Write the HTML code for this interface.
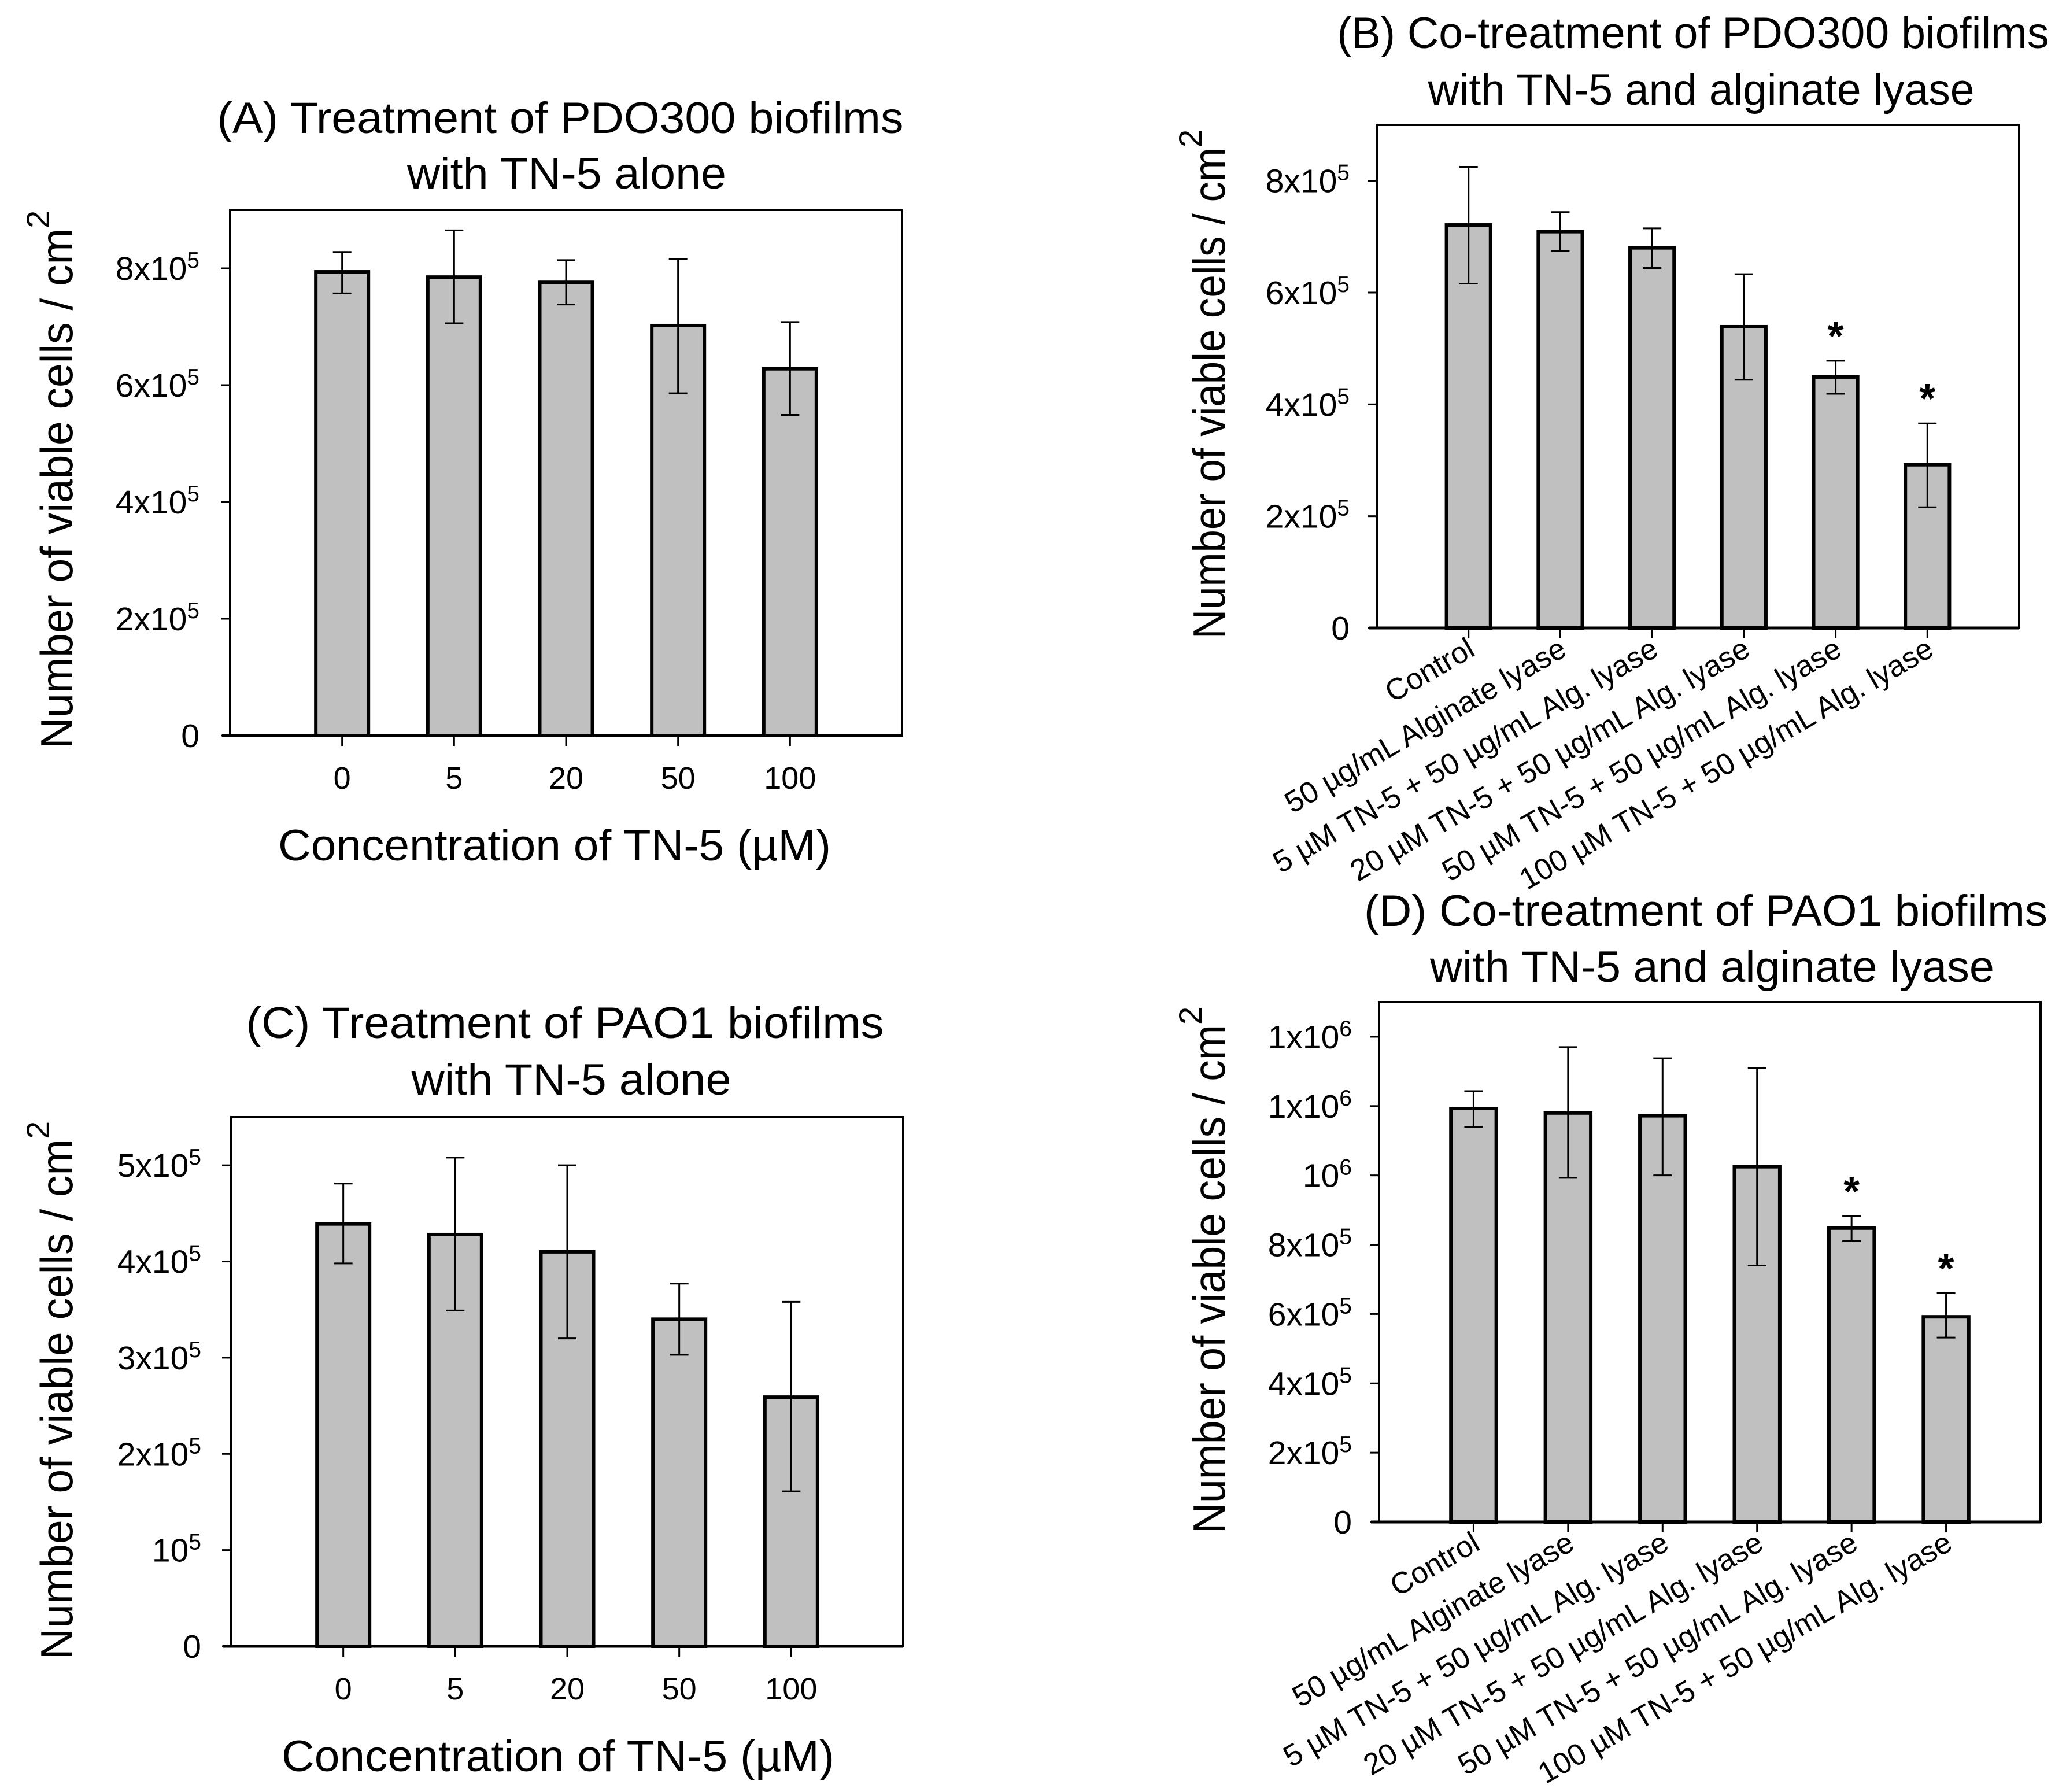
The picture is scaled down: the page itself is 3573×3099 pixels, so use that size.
<!DOCTYPE html>
<html><head><meta charset="utf-8"><style>
html,body{margin:0;padding:0;background:#fff;}
svg{display:block;font-family:"Liberation Sans",Arial,sans-serif;}
</style></head><body>
<svg id="fig" width="3573" height="3099" viewBox="0 0 3573 3099" xmlns="http://www.w3.org/2000/svg">
<rect width="3573" height="3099" fill="#fff"/>
</svg>
<script>
// ---- Panel A data ----
const aCats = ["0","5","20","50","100"];
const aMeans = [7.94e5, 7.85e5, 7.76e5, 7.02e5, 6.28e5];
const aHi = [8.28e5, 8.65e5, 8.14e5, 8.16e5, 7.08e5];
const aLo = [7.57e5, 7.06e5, 7.38e5, 5.86e5, 5.49e5];
const aTickVals = [0, 2e5, 4e5, 6e5, 8e5];
const aTickLabels = [["0",""],["2x10","5"],["4x10","5"],["6x10","5"],["8x10","5"]];
// ---- Panel B data ----
const bCats = ["Control","50 µg/mL Alginate lyase","5 µM TN-5 + 50 µg/mL Alg. lyase","20 µM TN-5 + 50 µg/mL Alg. lyase","50 µM TN-5 + 50 µg/mL Alg. lyase","100 µM TN-5 + 50 µg/mL Alg. lyase"];
const bMeans = [7.21e5, 7.09e5, 6.80e5, 5.39e5, 4.49e5, 2.92e5];
const bHi = [8.25e5, 7.44e5, 7.15e5, 6.33e5, 4.78e5, 3.66e5];
const bLo = [6.16e5, 6.75e5, 6.44e5, 4.44e5, 4.19e5, 2.16e5];
const bStars = [false,false,false,false,true,true];
const bTickVals = [0, 2e5, 4e5, 6e5, 8e5];
const bTickLabels = [["0",""],["2x10","5"],["4x10","5"],["6x10","5"],["8x10","5"]];
// ---- Panel C data ----
const cCats = ["0","5","20","50","100"];
const cMeans = [4.39e5, 4.28e5, 4.10e5, 3.40e5, 2.59e5];
const cHi = [4.81e5, 5.08e5, 5.00e5, 3.77e5, 3.58e5];
const cLo = [3.98e5, 3.49e5, 3.20e5, 3.03e5, 1.61e5];
const cTickVals = [0, 1e5, 2e5, 3e5, 4e5, 5e5];
const cTickLabels = [["0",""],["10","5"],["2x10","5"],["3x10","5"],["4x10","5"],["5x10","5"]];
// ---- Panel D data ----
const dCats = bCats;
const dMeans = [11.93e5, 11.80e5, 11.72e5, 10.25e5, 8.48e5, 5.92e5];
const dHi = [12.43e5, 13.70e5, 13.38e5, 13.10e5, 8.83e5, 6.60e5];
const dLo = [11.40e5, 9.93e5, 10.00e5, 7.40e5, 8.10e5, 5.32e5];
const dStars = [false,false,false,false,true,true];
const dTickVals = [0, 2e5, 4e5, 6e5, 8e5, 10e5, 12e5, 14e5];
const dTickLabels = [["0",""],["2x10","5"],["4x10","5"],["6x10","5"],["8x10","5"],["10","6"],["1x10","6"],["1x10","6"]];

const NS = "http://www.w3.org/2000/svg";
const svg = document.getElementById("fig");
function mk(tag, attrs, parent, txt){
  const e = document.createElementNS(NS, tag);
  for (const k in attrs) e.setAttribute(k, attrs[k]);
  if (txt !== undefined) e.textContent = txt;
  (parent||svg).appendChild(e);
  return e;
}

function panel(p){
  const g = mk("g", {});
  
  
  const n = p.cats.length;
  const slot = (p.x1 - p.x0) / (n + 1);
  const xs = i => p.x0 + slot * (i + 1);
  const ys = v => p.y1 - (v / p.ymax) * (p.y1 - p.y0);
  p.titles.forEach((t) => {
    const tt = mk("text", {x: t.cx, y: t.y, "font-size": 76, "text-anchor": "middle", textLength: t.w, lengthAdjust: "spacingAndGlyphs"}, g, t.s);
    
    
  });
  for (let i = 0; i < n; i++) {
    const cx = xs(i), bw = slot * p.bwf;
    const top = ys(p.means[i]);
    const r = mk("rect", {x: cx - bw/2, y: top, width: bw, height: p.y1 - top, fill: "#c0c0c0", stroke: "#000", "stroke-width": 6}, g);
    
    
    const hy = ys(p.hi[i]), ly = ys(p.lo[i]);
    const eb = mk("path", {d: `M${cx},${hy}V${ly}M${cx-16},${hy}H${cx+16}M${cx-16},${ly}H${cx+16}`, stroke: "#000", "stroke-width": 3, fill: "none"}, g);
    
    
    if (p.stars && p.stars[i]) {
      const st = mk("text", {x: cx, y: hy - 18, "font-size": 72, "text-anchor": "middle", "font-weight": "bold"}, g, "*");
      
      
    }
  }
  const fr = mk("rect", {x: p.x0, y: p.y0, width: p.x1 - p.x0, height: p.y1 - p.y0, fill: "none", stroke: "#000", "stroke-width": 4}, g);
  
  
  const zl = mk("line", {x1: p.x0 - 14, x2: p.x1, y1: p.y1, y2: p.y1, stroke: "#000", "stroke-width": 5}, g);
  
  
  p.tickVals.forEach((v, i) => {
    const y = ys(v);
    mk("line", {x1: p.x0 - 16, x2: p.x0, y1: y, y2: y, stroke: "#000", "stroke-width": 3}, g);
    const lab = p.tickLabels[i];
    const t = mk("text", {x: p.tlx, y: y + 20, "font-size": 57, "text-anchor": "end"}, g);
    
    
    mk("tspan", {}, t, lab[0]);
    if (lab[1]) mk("tspan", {dy: -21, "font-size": 39}, t, lab[1]);
  });
  for (let i = 0; i < n; i++) {
    const cx = xs(i);
    mk("line", {x1: cx, x2: cx, y1: p.y1, y2: p.y1 + 18, stroke: "#000", "stroke-width": 3}, g);
    if (p.rot) {
      const t = mk("text", {x: 0, y: 0, "font-size": 52, "text-anchor": "end", transform: `translate(${cx + 14},${p.y1 + 46}) rotate(-30)`}, g, p.cats[i]);
      
      
    } else {
      const t = mk("text", {x: cx, y: p.y1 + 92, "font-size": 54, "text-anchor": "middle"}, g, p.cats[i]);
      
      
    }
  }
  if (p.xt) {
    const t = mk("text", {x: p.xt.cx, y: p.xt.y, "font-size": 76, "text-anchor": "middle", textLength: p.xt.w, lengthAdjust: "spacingAndGlyphs"}, g, "Concentration of TN-5 (µM)");
    
    
  }
  const yt = mk("text", {x: 0, y: 0, "font-size": 78, transform: `translate(${p.ytx},${p.yt0}) rotate(-90)`}, g);
  
  
  mk("tspan", {textLength: p.ytw, lengthAdjust: "spacingAndGlyphs"}, yt, "Number of viable cells / cm");
  mk("tspan", {dy: -40, "font-size": 56}, yt, "2");
}

panel({name:"panel-a", cats:aCats, means:aMeans, hi:aHi, lo:aLo, tickVals:aTickVals, tickLabels:aTickLabels,
  x0:398, x1:1560, y0:363, y1:1272, ymax:9e5, bwf:0.47, tlx:345,
  titles:[{s:"(A) Treatment of PDO300 biofilms", cx:969, y:230, w:1187},{s:"with TN-5 alone", cx:980, y:326, w:552}],
  xt:{cx:959, y:1488, w:956}, ytx:125, yt0:1295, ytw:900});
panel({name:"panel-b", cats:bCats, means:bMeans, hi:bHi, lo:bLo, stars:bStars, tickVals:bTickVals, tickLabels:bTickLabels,
  x0:2381, x1:3492, y0:216, y1:1086, ymax:9e5, bwf:0.48, tlx:2334, rot:true,
  titles:[{s:"(B) Co-treatment of PDO300 biofilms", cx:2928, y:83, w:1231},{s:"with TN-5 and alginate lyase", cx:2942, y:181, w:945}],
  ytx:2118, yt0:1105, ytw:850});
panel({name:"panel-c", cats:cCats, means:cMeans, hi:cHi, lo:cLo, tickVals:cTickVals, tickLabels:cTickLabels,
  x0:400, x1:1562, y0:1932, y1:2847, ymax:5.5e5, bwf:0.47, tlx:348,
  titles:[{s:"(C) Treatment of PAO1 biofilms", cx:977, y:1795, w:1103},{s:"with TN-5 alone", cx:988, y:1893, w:553}],
  xt:{cx:965, y:3063, w:956}, ytx:125, yt0:2870, ytw:900});
panel({name:"panel-d", cats:dCats, means:dMeans, hi:dHi, lo:dLo, stars:dStars, tickVals:dTickVals, tickLabels:dTickLabels,
  x0:2385, x1:3529, y0:1733, y1:2632, ymax:15e5, bwf:0.48, tlx:2338, rot:true,
  titles:[{s:"(D) Co-treatment of PAO1 biofilms", cx:2950, y:1601, w:1182},{s:"with TN-5 and alginate lyase", cx:2961, y:1698, w:976}],
  ytx:2118, yt0:2652, ytw:880});
</script>
</body></html>
